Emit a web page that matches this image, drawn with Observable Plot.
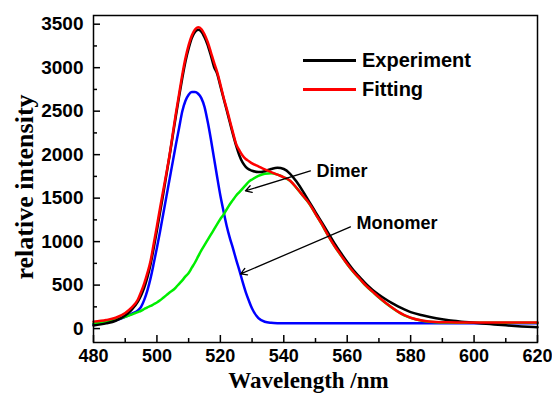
<!DOCTYPE html>
<html><head><meta charset="utf-8">
<script src="https://cdn.jsdelivr.net/npm/d3@7"></script>
<script src="https://cdn.jsdelivr.net/npm/@observablehq/plot@0.6"></script>
<style>
html,body{margin:0;padding:0;background:#fff;}
#wrap{position:relative;width:552px;height:393px;overflow:hidden;background:#fff;}
.leg{position:absolute;font:bold 20px "Liberation Sans",Arial,sans-serif;color:#000;line-height:20px;white-space:nowrap;}
.legline{position:absolute;height:3px;}
</style></head><body>
<div id="wrap"></div>
<script>
// wavelength grid (nm)
const wavelength = [480,484,487,490,492,494,
  495,496,497,498,499,500,501,502,503,504,505,506,507,508,509,510,511,512,513,514,515,516,517,518,519,520,521,522,523,524,525,526,527,528,529,530,
  532,534,536,538,540,542,544,546,548,550,552,554,556,558,560,562,564,566,568,570,572,574,576,578,580,
  584,588,592,596,600,605,610,615,620];
// Experiment (black)
const experiment = [35,60,90,150,215,310,
  380,470,590,740,930,1130,1340,1550,1770,1990,2220,2450,2670,2880,3070,3220,3340,3410,3435,3415,3350,3260,3140,3010,2930,2790,2650,2510,2370,2230,2100,1990,1910,1860,1830,1815,
  1800,1810,1835,1850,1835,1780,1690,1580,1460,1340,1220,1100,980,870,765,670,590,510,445,390,340,295,255,220,190,
  150,118,95,80,68,52,37,25,15];
// Fitting (red)
const fitting = [80,98,125,180,240,335,
  420,520,640,780,980,1180,1390,1590,1790,2000,2240,2480,2700,2920,3110,3260,3370,3440,3465,3445,3385,3295,3180,3060,2950,2810,2660,2530,2390,2250,2120,2050,1990,1950,1925,1900,
  1865,1830,1800,1770,1740,1700,1620,1530,1440,1320,1200,1070,950,845,742,650,570,490,425,360,300,245,195,155,125,
  90,76,72,70,70,70,70,70,70];
// Monomer (blue)
const monomer = [52,70,95,135,170,210,
  250,330,440,580,750,930,1120,1320,1520,1720,1920,2120,2310,2500,2620,2690,2720,2720,2700,2650,2550,2380,2180,1960,1740,1530,1350,1180,1040,920,790,670,540,420,320,230,
  120,78,66,62,61,61,61,61,61,61,61,61,61,61,61,61,61,61,61,61,61,61,61,61,61,
  61,61,61,61,61,61,61,61,61];
// Dimer (green)
const dimer = [58,80,105,135,160,190,
  205,225,245,260,280,300,325,355,385,415,440,475,515,555,600,640,700,760,830,900,960,1020,1080,1140,1200,1260,1310,1370,1430,1480,1530,1570,1610,1650,1690,1715,
  1755,1780,1785,1770,1740,1698,1618,1528,1438,1318,1198,1068,948,843,740,648,568,488,423,358,298,243,193,153,123,
  88,74,70,68,68,68,68,68,68];

const xMajor = [480,500,520,540,560,580,600,620];
const xMinor = [490,510,530,550,570,590,610];
const yMajor = [0,500,1000,1500,2000,2500,3000,3500];
const yMinor = [250,750,1250,1750,2250,2750,3250];

const seriesNames = ["Experiment","Fitting"];
const seriesColors = ["#000000","#ff0000"];

const labelNames = ["Dimer","Monomer"];
const labelX = [550.3, 562.9];
const labelY = [1813, 1215];
const arrowX1 = [548.4, 561.0];
const arrowY1 = [1813, 1170];
const arrowX2 = [527.9, 526.4];
const arrowY2 = [1584, 628];

const table = vals => wavelength.map((w, i) => ({wl: w, v: vals[i]}));
const notes = labelNames.map((n, i) => ({name: n, x: labelX[i], y: labelY[i], x1: arrowX1[i], y1: arrowY1[i], x2: arrowX2[i], y2: arrowY2[i]}));

const sans = '"Liberation Sans", Arial, sans-serif';
const serif = '"Liberation Serif", "Times New Roman", serif';

const chart = Plot.plot({
  width: 552, height: 393,
  marginLeft: 93, marginRight: 15, marginTop: 15, marginBottom: 51,
  style: {background: "#fff", fontFamily: sans, color: "#000"},
  x: {domain: [480, 620]},
  y: {domain: [-160, 3600]},
  marks: [
    Plot.line(table(monomer), {x: "wl", y: "v", stroke: "#0000ff", strokeWidth: 2.5, curve: "monotone-x"}),
    Plot.line(table(dimer), {x: "wl", y: "v", stroke: "#00ee00", strokeWidth: 2.5, curve: "monotone-x"}),
    Plot.line(table(experiment), {x: "wl", y: "v", stroke: "#000", strokeWidth: 2.5, curve: "monotone-x"}),
    Plot.line(table(fitting), {x: "wl", y: "v", stroke: "#ff0000", strokeWidth: 2.5, curve: "monotone-x"}),
    Plot.arrow(notes, {x1: "x1", y1: "y1", x2: "x2", y2: "y2", stroke: "#000", strokeWidth: 1.3, headLength: 8}),
    Plot.text(notes, {x: "x", y: "y", text: "name", textAnchor: "start", fontSize: 18, fontWeight: "bold", fontFamily: sans, fill: "#000"}),
    Plot.frame({stroke: "#000", strokeWidth: 1.5}),
    Plot.axisX({ticks: xMajor, tickSize: -7, fill: "none", strokeWidth: 1.5, label: null}),
    Plot.axisX({ticks: xMinor, tickSize: -4, fill: "none", strokeWidth: 1.5, label: null}),
    Plot.axisY({ticks: yMajor, tickSize: -7, fill: "none", strokeWidth: 1.5, label: null}),
    Plot.axisY({ticks: yMinor, tickSize: -4, fill: "none", strokeWidth: 1.5, label: null}),
    Plot.axisX({ticks: xMajor, tickSize: 0, tickPadding: 7, tickFormat: "d", fontSize: 18, fontWeight: "bold", label: null}),
    Plot.axisY({ticks: yMajor, tickSize: 0, tickPadding: 10, tickFormat: "d", fontSize: 19, fontWeight: "bold", label: null}),
    Plot.text(["Wavelength /nm"], {frameAnchor: "bottom", textAnchor: "middle", lineAnchor: "top", dx: -7, dy: 29, fontSize: 23, fontWeight: "bold", fontFamily: serif, fill: "#000"}),
    Plot.text(["relative intensity"], {frameAnchor: "left", textAnchor: "middle", lineAnchor: "middle", rotate: -90, dx: -69, dy: 8, fontSize: 26, fontWeight: "bold", fontFamily: serif, fill: "#000"})
  ]
});
const wrap = document.getElementById("wrap");
wrap.appendChild(chart);

// legend
const legTop = [60, 89];
seriesNames.forEach((name, i) => {
  const line = document.createElement("div");
  line.className = "legline";
  line.style.left = "303px"; line.style.width = "53px";
  line.style.top = (legTop[i] - 1.5) + "px";
  line.style.background = seriesColors[i];
  wrap.appendChild(line);
  const t = document.createElement("div");
  t.className = "leg";
  t.textContent = name;
  t.style.left = "362px";
  t.style.top = (legTop[i] - 10) + "px";
  wrap.appendChild(t);
});
</script>
</body></html>
